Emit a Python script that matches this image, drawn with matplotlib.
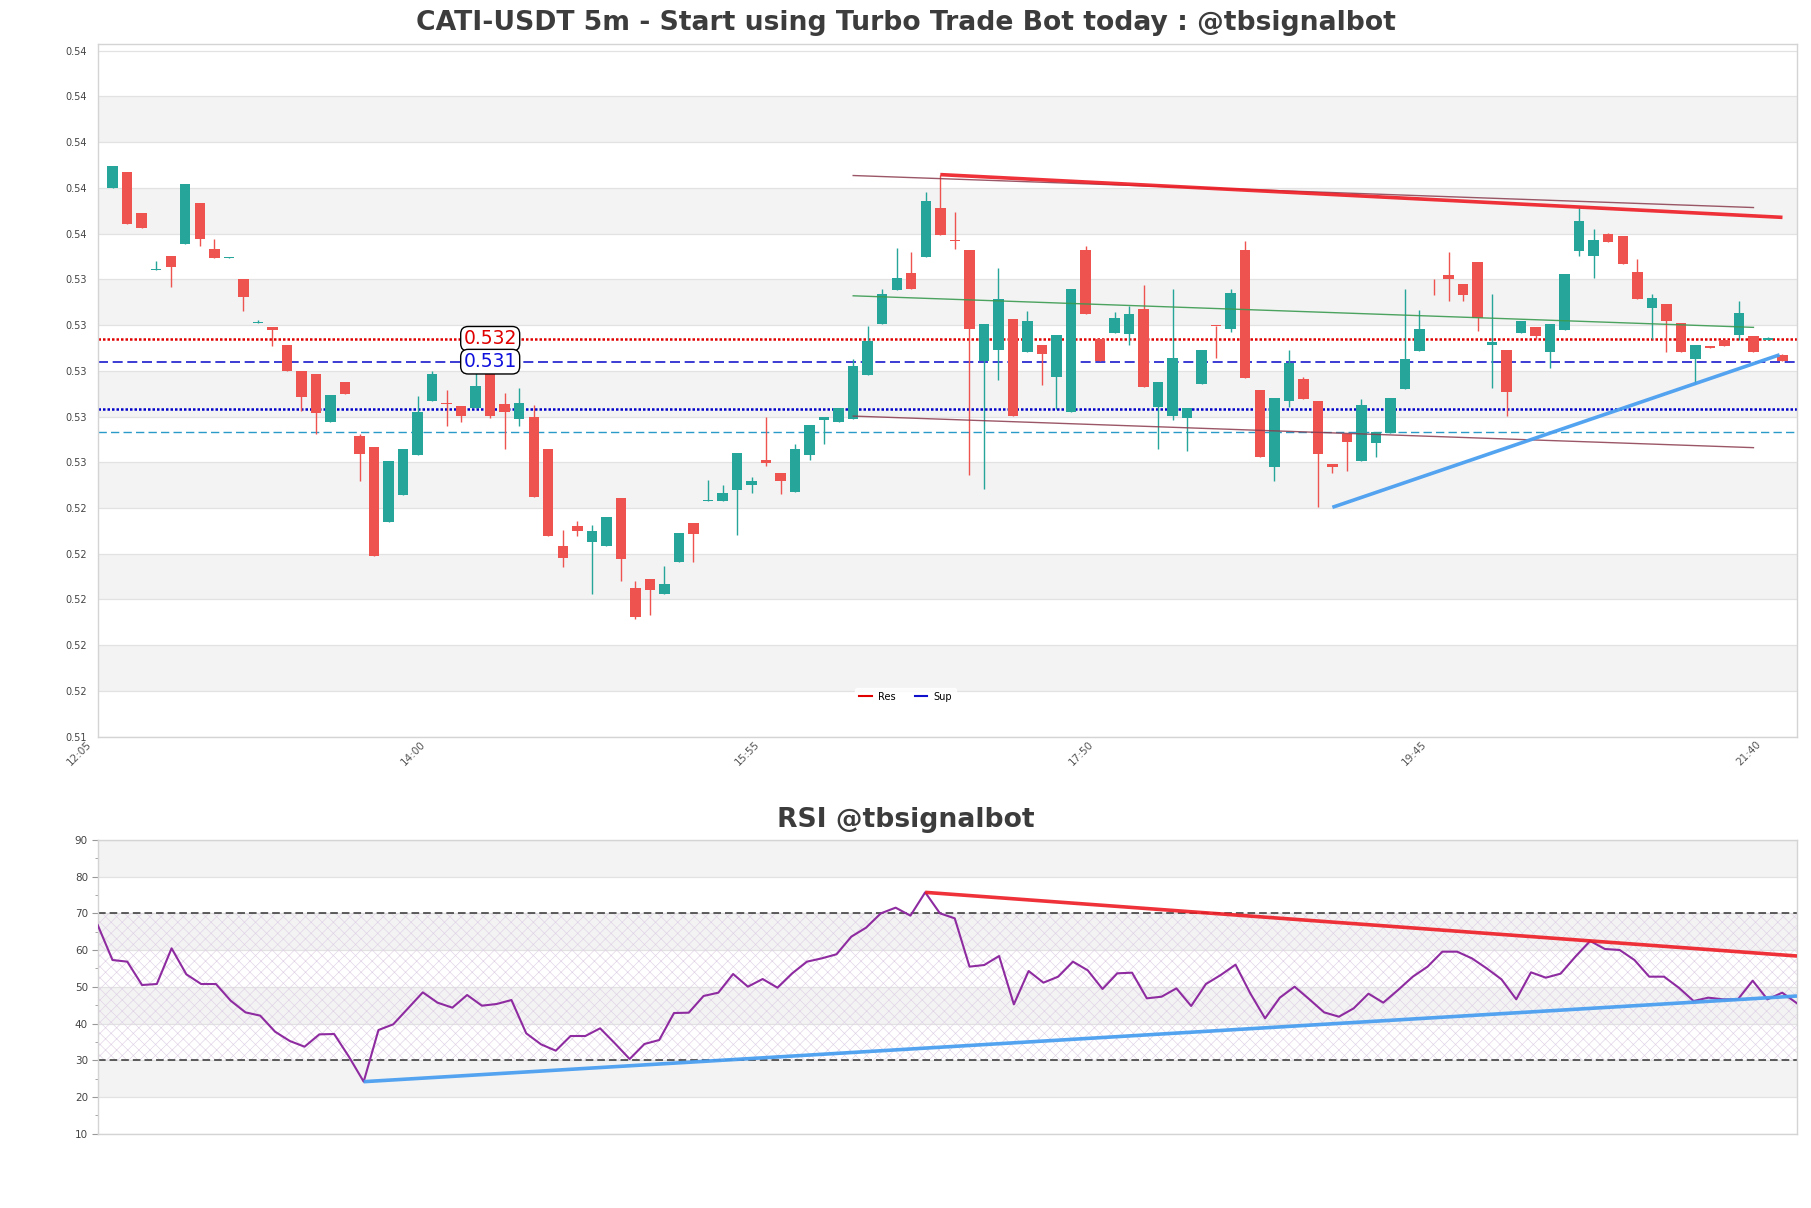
import numpy as np
import matplotlib
matplotlib.use('Agg')
import matplotlib.pyplot as plt
from matplotlib.lines import Line2D
from matplotlib.ticker import FormatStrFormatter, MultipleLocator, FixedLocator
from matplotlib.transforms import ScaledTranslation

plt.rcParams['font.family'] = ['DejaVu Sans']
plt.rcParams['hatch.linewidth'] = 0.45

title_main = "CATI-USDT 5m - Start using Turbo Trade Bot today : @tbsignalbot"
title_rsi = "RSI @tbsignalbot"

opens = [
    0.53860, 0.53929, 0.53749, 0.53501, 0.53561, 0.53615, 0.53794, 0.53591, 0.53554, 0.53460,
    0.53271, 0.53250, 0.53171, 0.53057, 0.53044, 0.52835, 0.53009, 0.52777, 0.52728, 0.52397,
    0.52517, 0.52692, 0.52927, 0.52920, 0.52907, 0.52898, 0.53113, 0.52915, 0.52849, 0.52860,
    0.52718, 0.52293, 0.52383, 0.52310, 0.52292, 0.52504, 0.52110, 0.52149, 0.52083, 0.52226,
    0.52396, 0.52490, 0.52489, 0.52537, 0.52559, 0.52670, 0.52612, 0.52529, 0.52691, 0.52844,
    0.52835, 0.52850, 0.53041, 0.53264, 0.53413, 0.53486, 0.53558, 0.53771, 0.53629, 0.53587,
    0.53102, 0.53150, 0.53285, 0.53142, 0.53171, 0.53032, 0.52879, 0.53587, 0.53200, 0.53225,
    0.53221, 0.53329, 0.52901, 0.52861, 0.52853, 0.53002, 0.53258, 0.53241, 0.53587, 0.52978,
    0.52638, 0.52927, 0.53026, 0.52930, 0.52653, 0.52784, 0.52664, 0.52743, 0.52787, 0.52980,
    0.53146, 0.53462, 0.53478, 0.53438, 0.53534, 0.53174, 0.53149, 0.53225, 0.53250, 0.53142,
    0.53238, 0.53586, 0.53562, 0.53660, 0.53648, 0.53491, 0.53334, 0.53353, 0.53270, 0.53111,
    0.53169, 0.53196, 0.53216, 0.53213, 0.53196, 0.53127]

closes = [
    0.53955, 0.53702, 0.53685, 0.53505, 0.53514, 0.53876, 0.53637, 0.53553, 0.53556, 0.53383,
    0.53273, 0.53238, 0.53058, 0.52945, 0.52875, 0.52956, 0.52958, 0.52695, 0.52248, 0.52667,
    0.52718, 0.52882, 0.53044, 0.52917, 0.52861, 0.52994, 0.52864, 0.52879, 0.52920, 0.52507,
    0.52336, 0.52241, 0.52358, 0.52361, 0.52422, 0.52235, 0.51985, 0.52101, 0.52127, 0.52351,
    0.52345, 0.52492, 0.52524, 0.52702, 0.52579, 0.52656, 0.52577, 0.52720, 0.52825, 0.52858,
    0.52899, 0.53079, 0.53190, 0.53397, 0.53464, 0.53418, 0.53802, 0.53654, 0.53627, 0.53242,
    0.53263, 0.53372, 0.52861, 0.53276, 0.53133, 0.53215, 0.53416, 0.53308, 0.53102, 0.53289,
    0.53307, 0.52988, 0.53013, 0.53118, 0.52899, 0.53149, 0.53256, 0.53399, 0.53028, 0.52683,
    0.52939, 0.53094, 0.52936, 0.52695, 0.52638, 0.52748, 0.52912, 0.52794, 0.52939, 0.53110,
    0.53245, 0.53460, 0.53461, 0.53391, 0.53292, 0.53188, 0.52967, 0.53276, 0.53212, 0.53263,
    0.53485, 0.53714, 0.53634, 0.53624, 0.53527, 0.53374, 0.53377, 0.53277, 0.53142, 0.53174,
    0.53161, 0.53168, 0.53314, 0.53142, 0.53203, 0.53102]

highs = [
    0.53955, 0.53929, 0.53749, 0.53539, 0.53561, 0.53876, 0.53794, 0.53635, 0.53556, 0.53460,
    0.53283, 0.53250, 0.53171, 0.53057, 0.53044, 0.52956, 0.53009, 0.52784, 0.52728, 0.52667,
    0.52718, 0.52952, 0.53058, 0.52978, 0.52907, 0.53058, 0.53113, 0.52964, 0.52987, 0.52911,
    0.52718, 0.52365, 0.52404, 0.52387, 0.52422, 0.52504, 0.52142, 0.52149, 0.52207, 0.52351,
    0.52396, 0.52584, 0.52562, 0.52702, 0.52597, 0.52860, 0.52612, 0.52740, 0.52825, 0.52858,
    0.52899, 0.53110, 0.53254, 0.53416, 0.53596, 0.53578, 0.53841, 0.53916, 0.53753, 0.53587,
    0.53263, 0.53508, 0.53285, 0.53320, 0.53171, 0.53215, 0.53416, 0.53605, 0.53200, 0.53318,
    0.53343, 0.53434, 0.53013, 0.53416, 0.52899, 0.53149, 0.53258, 0.53416, 0.53626, 0.52978,
    0.52939, 0.53153, 0.53035, 0.52930, 0.52653, 0.52784, 0.52937, 0.52794, 0.52939, 0.53416,
    0.53324, 0.53462, 0.53578, 0.53438, 0.53534, 0.53394, 0.53149, 0.53276, 0.53250, 0.53263,
    0.53485, 0.53770, 0.53682, 0.53664, 0.53648, 0.53548, 0.53397, 0.53353, 0.53270, 0.53174,
    0.53169, 0.53196, 0.53365, 0.53213, 0.53207, 0.53132]

lows = [
    0.53860, 0.53702, 0.53685, 0.53501, 0.53426, 0.53615, 0.53606, 0.53553, 0.53554, 0.53320,
    0.53271, 0.53168, 0.53058, 0.52886, 0.52784, 0.52835, 0.52958, 0.52577, 0.52248, 0.52397,
    0.52517, 0.52692, 0.52927, 0.52819, 0.52835, 0.52898, 0.52854, 0.52717, 0.52818, 0.52507,
    0.52336, 0.52200, 0.52339, 0.52086, 0.52292, 0.52139, 0.51974, 0.51991, 0.52083, 0.52226,
    0.52226, 0.52490, 0.52489, 0.52342, 0.52524, 0.52644, 0.52520, 0.52529, 0.52670, 0.52739,
    0.52835, 0.52850, 0.53041, 0.53264, 0.53413, 0.53418, 0.53558, 0.53654, 0.53593, 0.52604,
    0.52543, 0.53018, 0.52861, 0.53142, 0.52996, 0.52894, 0.52879, 0.53308, 0.53102, 0.53225,
    0.53174, 0.52988, 0.52718, 0.52843, 0.52710, 0.53002, 0.53115, 0.53229, 0.53028, 0.52683,
    0.52579, 0.52901, 0.52936, 0.52463, 0.52612, 0.52621, 0.52664, 0.52682, 0.52787, 0.52980,
    0.53146, 0.53390, 0.53365, 0.53365, 0.53234, 0.52984, 0.52861, 0.53225, 0.53197, 0.53072,
    0.53238, 0.53562, 0.53466, 0.53624, 0.53527, 0.53374, 0.53200, 0.53142, 0.53142, 0.53003,
    0.53161, 0.53168, 0.53193, 0.53142, 0.53196, 0.53102]

rsi_values = [
    66.85, 57.31, 56.86, 50.50, 50.77, 60.49, 53.41, 50.77, 50.77, 46.23,
    43.05, 42.15, 37.79, 35.25, 33.70, 37.06, 37.15, 30.98, 24.17, 38.24,
    39.79, 44.14, 48.50, 45.69, 44.33, 47.78, 44.87, 45.33, 46.41, 37.34,
    34.34, 32.61, 36.61, 36.61, 38.70, 34.61, 30.34, 34.43, 35.52, 42.87,
    42.96, 47.51, 48.41, 53.50, 50.05, 52.13, 49.77, 53.68, 56.86, 57.76,
    58.87, 63.67, 66.12, 70.02, 71.57, 69.39, 75.74, 70.02, 68.66, 55.50,
    55.95, 58.40, 45.23, 54.31, 51.14, 52.77, 56.86, 54.50, 49.41, 53.68,
    53.86, 46.87, 47.32, 49.59, 44.78, 50.77, 53.22, 56.04, 48.23, 41.42,
    47.05, 50.05, 46.60, 43.05, 41.87, 44.15, 48.14, 45.69, 49.14, 52.77,
    55.50, 59.58, 59.58, 57.76, 55.04, 52.04, 46.60, 53.95, 52.50, 53.59,
    58.22, 62.49, 60.31, 60.04, 57.31, 52.77, 52.77, 49.77, 46.14, 47.05,
    46.60, 46.60, 51.68, 46.60, 48.41, 45.51]

xtick_idx = [0, 23, 46, 69, 92, 115]
xtick_labels = ["12:05", "14:00", "15:55", "17:50", "19:45", "21:40"]
price_ticks = [0.5146, 0.5166, 0.5186, 0.5206, 0.5226, 0.5246, 0.5266, 0.5286,
               0.5306, 0.5326, 0.5346, 0.5366, 0.5386, 0.5406, 0.5426, 0.5446]
rsi_ticks = [10, 20, 30, 40, 50, 60, 70, 80, 90]

res_level = 0.53197
res_label_level = 0.532
sup_dash_level = 0.53097
sup_label_level = 0.531
sup_dot_level = 0.52895
aux_level = 0.52794
label_idx = 26

res_trend_x = [57, 115]
res_trend_y = [0.53918, 0.53731]
chan_up_x = [51, 113]
chan_up_y = [0.53914, 0.53774]
chan_mid_x = [51, 113]
chan_mid_y = [0.53388, 0.53250]
chan_lo_x = [51, 113]
chan_lo_y = [0.52862, 0.52724]
sup_trend_x = [84, 114.8]
sup_trend_y = [0.52463, 0.53130]

rsi_res_x = [56, 115]
rsi_res_y = [75.74, 58.40]
rsi_sup_x = [18, 115]
rsi_sup_y = [24.17, 47.50]
rsi_upper = 70
rsi_lower = 30

GREEN = '#26a69a'
RED = '#ef5350'
BAND = '#f3f3f3'
GRID = '#e2e2e2'
SPINE = '#d4d4d4'
TXT = '#444444'

fig = plt.figure(figsize=(18.11, 12.08), dpi=100)
ax = fig.add_axes([0.05395, 0.39015, 0.93832, 0.57359])
ax2 = fig.add_axes([0.05395, 0.06151, 0.93832, 0.24313])

# ---------- main price panel ----------
o = np.array(opens); c = np.array(closes); h = np.array(highs); l = np.array(lows)
x = np.arange(len(o))
ax.set_xlim(-1.03, 116.0)
ax.set_ylim(price_ticks[0], 0.5449)

for k in range(1, len(price_ticks) - 1, 2):
    ax.axhspan(price_ticks[k], price_ticks[k + 1], color=BAND, zorder=0, lw=0)
for t in price_ticks:
    ax.axhline(t, color=GRID, lw=0.9, zorder=0.5)

ax.axhline(res_level, color='#e00000', lw=1.8, ls=(0, (1, 0.8)), zorder=1)
ax.axhline(sup_dash_level, color='#1a1acc', lw=1.2, ls=(0, (6, 2.8)), zorder=1)
ax.axhline(sup_dot_level, color='#0000c8', lw=1.8, ls=(0, (1, 0.8)), zorder=1)
ax.axhline(aux_level, color='#2a9ac8', lw=1.0, ls=(0, (6, 3)), zorder=1)

up = c >= o
colors = np.where(up, GREEN, RED)
ax.vlines(x, l, h, colors=colors, lw=1.0, zorder=2)
body_bottom = np.minimum(o, c)
body_h = np.maximum(np.abs(c - o), 0.00003)
ax.bar(x, body_h, bottom=body_bottom, width=0.72, color=colors, lw=0, zorder=3)

ax.plot(chan_up_x, chan_up_y, color='#8a3a4c', lw=1.0, alpha=0.85, zorder=4)
ax.plot(chan_mid_x, chan_mid_y, color='#3a9a50', lw=1.0, alpha=0.9, zorder=4)
ax.plot(chan_lo_x, chan_lo_y, color='#8a3a4c', lw=1.0, alpha=0.85, zorder=4)
ax.plot(res_trend_x, res_trend_y, color='#ee1c24', lw=2.6, alpha=0.9, zorder=5,
        solid_capstyle='butt')
ax.plot(sup_trend_x, sup_trend_y, color='#4a9ff0', lw=2.6, alpha=0.95, zorder=5,
        solid_capstyle='butt')

ax.text(label_idx, res_label_level, f"{res_label_level:.3f}", color='#e00000',
        fontsize=13.5, ha='center', va='center', zorder=6,
        bbox=dict(boxstyle='round,pad=0.15,rounding_size=0.4', fc='white', ec='black', lw=1.0))
ax.text(label_idx, sup_label_level, f"{sup_label_level:.3f}", color='#1010dd',
        fontsize=13.5, ha='center', va='center', zorder=6,
        bbox=dict(boxstyle='round,pad=0.15,rounding_size=0.4', fc='white', ec='black', lw=1.0))

ax.yaxis.set_major_locator(FixedLocator(price_ticks))
ax.yaxis.set_major_formatter(FormatStrFormatter('%.2f'))
ax.tick_params(axis='y', length=0, pad=8, labelsize=7, labelcolor=TXT)
ax.set_xticks(xtick_idx)
ax.set_xticklabels(xtick_labels, rotation=45, ha='right', va='top')
ax.tick_params(axis='x', length=0, pad=2, labelsize=7.5, labelcolor='#555555')
for lab in ax.get_xticklabels():
    lab.set_transform(lab.get_transform() + ScaledTranslation(-0.195, 0, fig.dpi_scale_trans))
for sp in ax.spines.values():
    sp.set_color(SPINE)
    sp.set_linewidth(1.0)

fig.text(0.5, 0.9812, title_main, ha='center', va='center', fontsize=19.2,
         fontweight='bold', color='#3c3c3c')

handles = [Line2D([], [], color='#e00000', lw=1.5), Line2D([], [], color='#1010cc', lw=1.5)]
fig.legend(handles, ['Res', 'Sup'], loc='center', bbox_to_anchor=(0.5, 1 - 696.5 / 1208),
           ncol=2, fontsize=7, frameon=True, facecolor='white', edgecolor='white',
           handlelength=1.3, handletextpad=0.6, columnspacing=2.0, borderpad=0.4)

# ---------- RSI panel ----------
r = np.array(rsi_values)
xr = np.arange(len(r))
ax2.set_xlim(0, len(r) - 1)
ax2.set_ylim(rsi_ticks[0], rsi_ticks[-1])
for k in range(1, len(rsi_ticks) - 1, 2):
    ax2.axhspan(rsi_ticks[k], rsi_ticks[k + 1], color=BAND, zorder=0, lw=0)
for t in rsi_ticks:
    ax2.axhline(t, color=GRID, lw=0.9, zorder=0.5)
ax2.axhspan(rsi_lower, rsi_upper, facecolor='none', edgecolor='#e0d2e6', hatch='xxx',
            lw=0, zorder=0.6)
ax2.axhline(rsi_upper, color='#333333', lw=1.1, ls=(0, (5, 2.6)), zorder=1)
ax2.axhline(rsi_lower, color='#333333', lw=1.1, ls=(0, (5, 2.6)), zorder=1)
ax2.plot(xr, r, color='#8e2ba0', lw=1.5, zorder=3)
ax2.plot(rsi_res_x, rsi_res_y, color='#ee1c24', lw=2.6, alpha=0.9, zorder=4,
         solid_capstyle='butt')
ax2.plot(rsi_sup_x, rsi_sup_y, color='#4a9ff0', lw=2.6, alpha=0.95, zorder=4,
         solid_capstyle='butt')

ax2.yaxis.set_major_locator(FixedLocator(rsi_ticks))
ax2.yaxis.set_minor_locator(MultipleLocator(5))
ax2.tick_params(axis='y', which='major', length=4, color='#999999', labelsize=7.5,
                labelcolor=TXT, pad=3)
ax2.tick_params(axis='y', which='minor', length=2.5, color='#999999')
ax2.set_xticks([])
for sp in ax2.spines.values():
    sp.set_color(SPINE)
    sp.set_linewidth(1.0)

fig.text(0.5, 1 - 820 / 1208, title_rsi, ha='center', va='center', fontsize=19.2,
         fontweight='bold', color='#3c3c3c')

fig.savefig('out.png', dpi=100, facecolor='white')
